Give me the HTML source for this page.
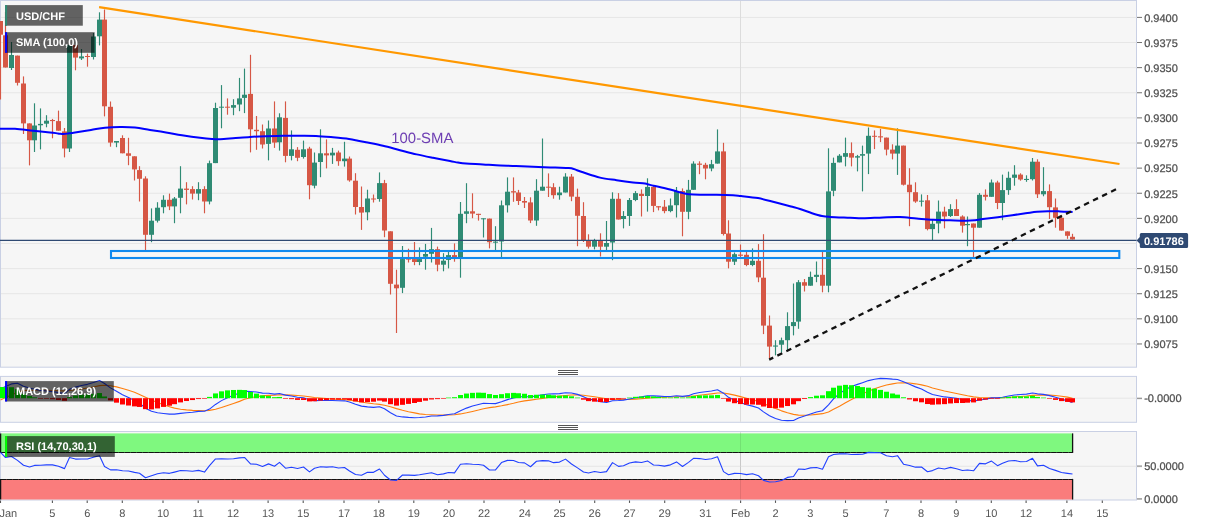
<!DOCTYPE html>
<html lang="en"><head><meta charset="utf-8"><title>USD/CHF chart</title>
<style>
html,body{margin:0;padding:0;background:#fff;}
body{width:1207px;height:526px;overflow:hidden;font-family:"Liberation Sans",Arial,sans-serif;}
svg{display:block;}
text{text-rendering:geometricPrecision;}
</style></head><body>
<svg width="1207" height="526" viewBox="0 0 1207 526">
<rect x="0.5" y="0.5" width="1136" height="366.7" fill="#f6f6f6" stroke="#c9d0e4" stroke-width="1"/>
<rect x="0.5" y="376.4" width="1136" height="45.9" fill="#f6f6f6" stroke="#c9d0e4" stroke-width="1"/>
<rect x="0.5" y="431.5" width="1136" height="68.5" fill="#f6f6f6" stroke="#c9d0e4" stroke-width="1"/>
<line x1="1" x2="1136.5" y1="17.4" y2="17.4" stroke="#e6e6e6" stroke-width="1"/>
<line x1="1" x2="1136.5" y1="42.52" y2="42.52" stroke="#e6e6e6" stroke-width="1"/>
<line x1="1" x2="1136.5" y1="67.64" y2="67.64" stroke="#e6e6e6" stroke-width="1"/>
<line x1="1" x2="1136.5" y1="92.76" y2="92.76" stroke="#e6e6e6" stroke-width="1"/>
<line x1="1" x2="1136.5" y1="117.88" y2="117.88" stroke="#e6e6e6" stroke-width="1"/>
<line x1="1" x2="1136.5" y1="143" y2="143" stroke="#e6e6e6" stroke-width="1"/>
<line x1="1" x2="1136.5" y1="168.12" y2="168.12" stroke="#e6e6e6" stroke-width="1"/>
<line x1="1" x2="1136.5" y1="193.24" y2="193.24" stroke="#e6e6e6" stroke-width="1"/>
<line x1="1" x2="1136.5" y1="218.36" y2="218.36" stroke="#e6e6e6" stroke-width="1"/>
<line x1="1" x2="1136.5" y1="243.48" y2="243.48" stroke="#e6e6e6" stroke-width="1"/>
<line x1="1" x2="1136.5" y1="268.6" y2="268.6" stroke="#e6e6e6" stroke-width="1"/>
<line x1="1" x2="1136.5" y1="293.72" y2="293.72" stroke="#e6e6e6" stroke-width="1"/>
<line x1="1" x2="1136.5" y1="318.84" y2="318.84" stroke="#e6e6e6" stroke-width="1"/>
<line x1="1" x2="1136.5" y1="343.96" y2="343.96" stroke="#e6e6e6" stroke-width="1"/>
<line x1="740.5" x2="740.5" y1="1" y2="366.7" stroke="#dcdcdc" stroke-width="1"/>
<line x1="740.5" x2="740.5" y1="377" y2="421.8" stroke="#dcdcdc" stroke-width="1"/>
<line x1="740.5" x2="740.5" y1="432" y2="499" stroke="#dcdcdc" stroke-width="1"/>
<line x1="1" x2="1136.5" y1="398.2" y2="398.2" stroke="#e6e6e6" stroke-width="1"/>
<line x1="1" x2="1136.5" y1="466.3" y2="466.3" stroke="#e6e6e6" stroke-width="1"/>
<g id="candles">
<line x1="0.5" x2="0.5" y1="21" y2="99.6" stroke="#d65745" stroke-width="1.15"/>
<rect x="-2" y="21" width="5" height="13.7" fill="#d65745"/>
<line x1="5.5" x2="5.5" y1="12" y2="67.5" stroke="#d65745" stroke-width="1.15"/>
<rect x="3" y="35.3" width="5" height="32.2" fill="#d65745"/>
<line x1="11.5" x2="11.5" y1="42" y2="70" stroke="#2f8b74" stroke-width="1.15"/>
<rect x="9" y="55" width="5" height="13" fill="#2f8b74"/>
<line x1="17.5" x2="17.5" y1="55.6" y2="85.5" stroke="#d65745" stroke-width="1.15"/>
<rect x="15" y="55.6" width="5" height="27.2" fill="#d65745"/>
<line x1="23.5" x2="23.5" y1="76.4" y2="134" stroke="#d65745" stroke-width="1.15"/>
<rect x="21" y="83.5" width="5" height="39.9" fill="#d65745"/>
<line x1="29.5" x2="29.5" y1="123.4" y2="165.4" stroke="#d65745" stroke-width="1.15"/>
<rect x="27" y="123.4" width="5" height="16.9" fill="#d65745"/>
<line x1="34.5" x2="34.5" y1="103.3" y2="152" stroke="#2f8b74" stroke-width="1.15"/>
<rect x="32" y="125.5" width="5" height="14.8" fill="#2f8b74"/>
<line x1="40.5" x2="40.5" y1="108.4" y2="149.4" stroke="#2f8b74" stroke-width="1.15"/>
<rect x="38" y="123.9" width="5" height="1.4" fill="#2f8b74"/>
<line x1="46.5" x2="46.5" y1="115.2" y2="127.3" stroke="#2f8b74" stroke-width="1.15"/>
<rect x="44" y="120.7" width="5" height="3" fill="#2f8b74"/>
<line x1="52.5" x2="52.5" y1="118.9" y2="138.3" stroke="#d65745" stroke-width="1.15"/>
<rect x="50" y="120" width="5" height="1.1" fill="#d65745"/>
<line x1="58.5" x2="58.5" y1="110.6" y2="130.7" stroke="#d65745" stroke-width="1.15"/>
<rect x="56" y="121.1" width="5" height="9.6" fill="#d65745"/>
<line x1="64.5" x2="64.5" y1="128" y2="157.4" stroke="#d65745" stroke-width="1.15"/>
<rect x="62" y="131.4" width="5" height="17.1" fill="#d65745"/>
<line x1="69.5" x2="69.5" y1="45" y2="152" stroke="#2f8b74" stroke-width="1.15"/>
<rect x="67" y="45" width="5" height="103.5" fill="#2f8b74"/>
<line x1="75.5" x2="75.5" y1="45" y2="70.3" stroke="#d65745" stroke-width="1.15"/>
<rect x="73" y="45" width="5" height="12.6" fill="#d65745"/>
<line x1="81.5" x2="81.5" y1="49" y2="60" stroke="#2f8b74" stroke-width="1.15"/>
<rect x="79" y="56.4" width="5" height="2" fill="#2f8b74"/>
<line x1="87.5" x2="87.5" y1="53.6" y2="66.7" stroke="#d65745" stroke-width="1.15"/>
<rect x="85" y="56" width="5" height="1" fill="#d65745"/>
<line x1="93.5" x2="93.5" y1="33" y2="59.5" stroke="#2f8b74" stroke-width="1.15"/>
<rect x="91" y="36.5" width="5" height="20.5" fill="#2f8b74"/>
<line x1="99.5" x2="99.5" y1="12.3" y2="45.4" stroke="#2f8b74" stroke-width="1.15"/>
<rect x="97" y="19.6" width="5" height="16.7" fill="#2f8b74"/>
<line x1="104.5" x2="104.5" y1="9.5" y2="116.4" stroke="#d65745" stroke-width="1.15"/>
<rect x="102" y="19.6" width="5" height="86.7" fill="#d65745"/>
<line x1="110.5" x2="110.5" y1="101.5" y2="146.7" stroke="#d65745" stroke-width="1.15"/>
<rect x="108" y="106.8" width="5" height="35.8" fill="#d65745"/>
<line x1="116.5" x2="116.5" y1="141" y2="147.2" stroke="#2f8b74" stroke-width="1.15"/>
<rect x="114" y="141" width="5" height="1.6" fill="#2f8b74"/>
<line x1="122.5" x2="122.5" y1="135.3" y2="153.3" stroke="#d65745" stroke-width="1.15"/>
<rect x="120" y="138" width="5" height="15.3" fill="#d65745"/>
<line x1="128.5" x2="128.5" y1="137.8" y2="165.2" stroke="#d65745" stroke-width="1.15"/>
<rect x="126" y="153.3" width="5" height="2.5" fill="#d65745"/>
<line x1="134.5" x2="134.5" y1="156.3" y2="180.5" stroke="#d65745" stroke-width="1.15"/>
<rect x="132" y="156.3" width="5" height="13.1" fill="#d65745"/>
<line x1="139.5" x2="139.5" y1="166.2" y2="201.5" stroke="#d65745" stroke-width="1.15"/>
<rect x="137" y="170.1" width="5" height="8.7" fill="#d65745"/>
<line x1="145.5" x2="145.5" y1="176.3" y2="250" stroke="#d65745" stroke-width="1.15"/>
<rect x="143" y="178.5" width="5" height="56.3" fill="#d65745"/>
<line x1="151.5" x2="151.5" y1="208.4" y2="242.2" stroke="#2f8b74" stroke-width="1.15"/>
<rect x="149" y="220.7" width="5" height="14.1" fill="#2f8b74"/>
<line x1="157.5" x2="157.5" y1="202.2" y2="222.5" stroke="#2f8b74" stroke-width="1.15"/>
<rect x="155" y="207.7" width="5" height="13" fill="#2f8b74"/>
<line x1="163.5" x2="163.5" y1="195.3" y2="213.3" stroke="#2f8b74" stroke-width="1.15"/>
<rect x="161" y="199.8" width="5" height="7.4" fill="#2f8b74"/>
<line x1="169.5" x2="169.5" y1="193.6" y2="210.1" stroke="#d65745" stroke-width="1.15"/>
<rect x="167" y="199.8" width="5" height="6.6" fill="#d65745"/>
<line x1="174.5" x2="174.5" y1="197" y2="223.2" stroke="#2f8b74" stroke-width="1.15"/>
<rect x="172" y="198.5" width="5" height="7.9" fill="#2f8b74"/>
<line x1="180.5" x2="180.5" y1="166.2" y2="213.3" stroke="#2f8b74" stroke-width="1.15"/>
<rect x="178" y="188.6" width="5" height="9.2" fill="#2f8b74"/>
<line x1="186.5" x2="186.5" y1="182.2" y2="204.4" stroke="#d65745" stroke-width="1.15"/>
<rect x="184" y="188.6" width="5" height="1.3" fill="#d65745"/>
<line x1="192.5" x2="192.5" y1="186.2" y2="199.5" stroke="#d65745" stroke-width="1.15"/>
<rect x="190" y="189.1" width="5" height="4.5" fill="#d65745"/>
<line x1="198.5" x2="198.5" y1="182.2" y2="200.2" stroke="#2f8b74" stroke-width="1.15"/>
<rect x="196" y="189.1" width="5" height="4.5" fill="#2f8b74"/>
<line x1="204.5" x2="204.5" y1="186.2" y2="213.3" stroke="#d65745" stroke-width="1.15"/>
<rect x="202" y="189.1" width="5" height="12.4" fill="#d65745"/>
<line x1="209.5" x2="209.5" y1="160.6" y2="204.4" stroke="#2f8b74" stroke-width="1.15"/>
<rect x="207" y="163.2" width="5" height="38.3" fill="#2f8b74"/>
<line x1="215.5" x2="215.5" y1="102.7" y2="163.1" stroke="#2f8b74" stroke-width="1.15"/>
<rect x="213" y="108" width="5" height="55.1" fill="#2f8b74"/>
<line x1="221.5" x2="221.5" y1="85.1" y2="128.3" stroke="#2f8b74" stroke-width="1.15"/>
<rect x="219" y="106.7" width="5" height="1" fill="#2f8b74"/>
<line x1="227.5" x2="227.5" y1="98.4" y2="114.7" stroke="#d65745" stroke-width="1.15"/>
<rect x="225" y="106.7" width="5" height="1" fill="#d65745"/>
<line x1="233.5" x2="233.5" y1="99.2" y2="115.2" stroke="#2f8b74" stroke-width="1.15"/>
<rect x="231" y="105.1" width="5" height="2.6" fill="#2f8b74"/>
<line x1="239.5" x2="239.5" y1="77.9" y2="111.2" stroke="#2f8b74" stroke-width="1.15"/>
<rect x="237" y="98.4" width="5" height="6.1" fill="#2f8b74"/>
<line x1="244.5" x2="244.5" y1="68.6" y2="113.1" stroke="#2f8b74" stroke-width="1.15"/>
<rect x="242" y="94.7" width="5" height="3.2" fill="#2f8b74"/>
<line x1="250.5" x2="250.5" y1="54.8" y2="152.4" stroke="#d65745" stroke-width="1.15"/>
<rect x="248" y="93.9" width="5" height="35.4" fill="#d65745"/>
<line x1="256.5" x2="256.5" y1="116" y2="149.8" stroke="#d65745" stroke-width="1.15"/>
<rect x="254" y="129.8" width="5" height="1.4" fill="#d65745"/>
<line x1="262.5" x2="262.5" y1="124.5" y2="148.5" stroke="#d65745" stroke-width="1.15"/>
<rect x="260" y="131.2" width="5" height="13.3" fill="#d65745"/>
<line x1="268.5" x2="268.5" y1="120.5" y2="160.4" stroke="#2f8b74" stroke-width="1.15"/>
<rect x="266" y="128.5" width="5" height="15.4" fill="#2f8b74"/>
<line x1="274.5" x2="274.5" y1="101.4" y2="147.9" stroke="#d65745" stroke-width="1.15"/>
<rect x="272" y="128.5" width="5" height="14.1" fill="#d65745"/>
<line x1="279.5" x2="279.5" y1="113.3" y2="150.6" stroke="#2f8b74" stroke-width="1.15"/>
<rect x="277" y="117.3" width="5" height="25" fill="#2f8b74"/>
<line x1="285.5" x2="285.5" y1="101.4" y2="162.3" stroke="#d65745" stroke-width="1.15"/>
<rect x="283" y="117.9" width="5" height="38" fill="#d65745"/>
<line x1="291.5" x2="291.5" y1="130.4" y2="160.4" stroke="#2f8b74" stroke-width="1.15"/>
<rect x="289" y="149.3" width="5" height="6.6" fill="#2f8b74"/>
<line x1="297.5" x2="297.5" y1="147.1" y2="161.2" stroke="#d65745" stroke-width="1.15"/>
<rect x="295" y="149.8" width="5" height="8" fill="#d65745"/>
<line x1="303.5" x2="303.5" y1="140.6" y2="158.6" stroke="#2f8b74" stroke-width="1.15"/>
<rect x="301" y="149.3" width="5" height="7.7" fill="#2f8b74"/>
<line x1="309.5" x2="309.5" y1="146.8" y2="199.3" stroke="#d65745" stroke-width="1.15"/>
<rect x="307" y="148.6" width="5" height="36.6" fill="#d65745"/>
<line x1="314.5" x2="314.5" y1="152.5" y2="188.4" stroke="#2f8b74" stroke-width="1.15"/>
<rect x="312" y="162.6" width="5" height="23.1" fill="#2f8b74"/>
<line x1="320.5" x2="320.5" y1="129.3" y2="177.2" stroke="#2f8b74" stroke-width="1.15"/>
<rect x="318" y="153.3" width="5" height="8.7" fill="#2f8b74"/>
<line x1="326.5" x2="326.5" y1="139.4" y2="168.4" stroke="#d65745" stroke-width="1.15"/>
<rect x="324" y="153.3" width="5" height="2.1" fill="#d65745"/>
<line x1="332.5" x2="332.5" y1="147.9" y2="163.9" stroke="#2f8b74" stroke-width="1.15"/>
<rect x="330" y="152.7" width="5" height="2.7" fill="#2f8b74"/>
<line x1="338.5" x2="338.5" y1="150.6" y2="165.8" stroke="#d65745" stroke-width="1.15"/>
<rect x="336" y="152.5" width="5" height="8.7" fill="#d65745"/>
<line x1="344.5" x2="344.5" y1="141.8" y2="166.6" stroke="#2f8b74" stroke-width="1.15"/>
<rect x="342" y="158.6" width="5" height="2.6" fill="#2f8b74"/>
<line x1="349.5" x2="349.5" y1="156.5" y2="181.7" stroke="#d65745" stroke-width="1.15"/>
<rect x="347" y="158.6" width="5" height="21.8" fill="#d65745"/>
<line x1="355.5" x2="355.5" y1="173.2" y2="214.5" stroke="#d65745" stroke-width="1.15"/>
<rect x="353" y="180.7" width="5" height="26.3" fill="#d65745"/>
<line x1="361.5" x2="361.5" y1="186.5" y2="229.9" stroke="#d65745" stroke-width="1.15"/>
<rect x="359" y="207" width="5" height="5.6" fill="#d65745"/>
<line x1="367.5" x2="367.5" y1="189.7" y2="220.3" stroke="#2f8b74" stroke-width="1.15"/>
<rect x="365" y="198.5" width="5" height="13.8" fill="#2f8b74"/>
<line x1="373.5" x2="373.5" y1="194.5" y2="202.5" stroke="#d65745" stroke-width="1.15"/>
<rect x="371" y="198.5" width="5" height="1" fill="#d65745"/>
<line x1="379.5" x2="379.5" y1="172.4" y2="201.7" stroke="#2f8b74" stroke-width="1.15"/>
<rect x="377" y="183.1" width="5" height="15.9" fill="#2f8b74"/>
<line x1="384.5" x2="384.5" y1="179.9" y2="237.2" stroke="#d65745" stroke-width="1.15"/>
<rect x="382" y="183.1" width="5" height="47.4" fill="#d65745"/>
<line x1="390.5" x2="390.5" y1="231.3" y2="294.5" stroke="#d65745" stroke-width="1.15"/>
<rect x="388" y="231.3" width="5" height="52.5" fill="#d65745"/>
<line x1="396.5" x2="396.5" y1="269.7" y2="333" stroke="#d65745" stroke-width="1.15"/>
<rect x="394" y="284.6" width="5" height="3.7" fill="#d65745"/>
<line x1="402.5" x2="402.5" y1="246" y2="293.1" stroke="#2f8b74" stroke-width="1.15"/>
<rect x="400" y="259.1" width="5" height="28.7" fill="#2f8b74"/>
<line x1="408.5" x2="408.5" y1="248.7" y2="262.5" stroke="#d65745" stroke-width="1.15"/>
<rect x="406" y="258.5" width="5" height="1.1" fill="#d65745"/>
<line x1="414.5" x2="414.5" y1="242" y2="265.2" stroke="#d65745" stroke-width="1.15"/>
<rect x="412" y="259.1" width="5" height="2.9" fill="#d65745"/>
<line x1="419.5" x2="419.5" y1="247.4" y2="265.2" stroke="#2f8b74" stroke-width="1.15"/>
<rect x="417" y="259.1" width="5" height="2.9" fill="#2f8b74"/>
<line x1="425.5" x2="425.5" y1="243.9" y2="269.7" stroke="#2f8b74" stroke-width="1.15"/>
<rect x="423" y="254" width="5" height="2.7" fill="#2f8b74"/>
<line x1="431.5" x2="431.5" y1="227.9" y2="262.5" stroke="#2f8b74" stroke-width="1.15"/>
<rect x="429" y="249.2" width="5" height="4.6" fill="#2f8b74"/>
<line x1="437.5" x2="437.5" y1="246.6" y2="271.3" stroke="#d65745" stroke-width="1.15"/>
<rect x="435" y="249.2" width="5" height="15.5" fill="#d65745"/>
<line x1="443.5" x2="443.5" y1="253.2" y2="271.3" stroke="#2f8b74" stroke-width="1.15"/>
<rect x="441" y="260.7" width="5" height="4" fill="#2f8b74"/>
<line x1="448.5" x2="448.5" y1="251.9" y2="268.4" stroke="#2f8b74" stroke-width="1.15"/>
<rect x="446" y="255.1" width="5" height="4.8" fill="#2f8b74"/>
<line x1="454.5" x2="454.5" y1="243.4" y2="261.7" stroke="#d65745" stroke-width="1.15"/>
<rect x="452" y="255.1" width="5" height="2.1" fill="#d65745"/>
<line x1="460.5" x2="460.5" y1="202" y2="277.7" stroke="#2f8b74" stroke-width="1.15"/>
<rect x="458" y="213.8" width="5" height="43.4" fill="#2f8b74"/>
<line x1="466.5" x2="466.5" y1="183.2" y2="223.2" stroke="#2f8b74" stroke-width="1.15"/>
<rect x="464" y="211.3" width="5" height="2.5" fill="#2f8b74"/>
<line x1="472.5" x2="472.5" y1="193.3" y2="218.2" stroke="#d65745" stroke-width="1.15"/>
<rect x="470" y="211.3" width="5" height="2.3" fill="#d65745"/>
<line x1="478.5" x2="478.5" y1="213.8" y2="220.6" stroke="#d65745" stroke-width="1.15"/>
<rect x="476" y="213.8" width="5" height="1.1" fill="#d65745"/>
<line x1="483.5" x2="483.5" y1="218.3" y2="237.5" stroke="#2f8b74" stroke-width="1.15"/>
<rect x="481" y="218.3" width="5" height="1" fill="#2f8b74"/>
<line x1="489.5" x2="489.5" y1="218.6" y2="248.4" stroke="#d65745" stroke-width="1.15"/>
<rect x="487" y="218.6" width="5" height="23.6" fill="#d65745"/>
<line x1="495.5" x2="495.5" y1="226.2" y2="250.1" stroke="#2f8b74" stroke-width="1.15"/>
<rect x="493" y="241.6" width="5" height="1.1" fill="#2f8b74"/>
<line x1="501.5" x2="501.5" y1="200.5" y2="257.2" stroke="#2f8b74" stroke-width="1.15"/>
<rect x="499" y="205.3" width="5" height="36.2" fill="#2f8b74"/>
<line x1="507.5" x2="507.5" y1="177.4" y2="212.5" stroke="#2f8b74" stroke-width="1.15"/>
<rect x="505" y="191.7" width="5" height="13.6" fill="#2f8b74"/>
<line x1="513.5" x2="513.5" y1="177.4" y2="201.8" stroke="#d65745" stroke-width="1.15"/>
<rect x="511" y="191.2" width="5" height="1.3" fill="#d65745"/>
<line x1="518.5" x2="518.5" y1="189.9" y2="205" stroke="#d65745" stroke-width="1.15"/>
<rect x="516" y="192.5" width="5" height="8.5" fill="#d65745"/>
<line x1="524.5" x2="524.5" y1="197" y2="208" stroke="#d65745" stroke-width="1.15"/>
<rect x="522" y="201" width="5" height="1.6" fill="#d65745"/>
<line x1="530.5" x2="530.5" y1="197.3" y2="223.1" stroke="#d65745" stroke-width="1.15"/>
<rect x="528" y="202.4" width="5" height="18.1" fill="#d65745"/>
<line x1="536.5" x2="536.5" y1="179.2" y2="225.8" stroke="#2f8b74" stroke-width="1.15"/>
<rect x="534" y="190.7" width="5" height="29.8" fill="#2f8b74"/>
<line x1="542.5" x2="542.5" y1="138.5" y2="190.7" stroke="#2f8b74" stroke-width="1.15"/>
<rect x="540" y="186.7" width="5" height="4" fill="#2f8b74"/>
<line x1="548.5" x2="548.5" y1="173.4" y2="197" stroke="#d65745" stroke-width="1.15"/>
<rect x="546" y="186.7" width="5" height="1" fill="#d65745"/>
<line x1="553.5" x2="553.5" y1="183.2" y2="198.7" stroke="#d65745" stroke-width="1.15"/>
<rect x="551" y="187.2" width="5" height="8" fill="#d65745"/>
<line x1="559.5" x2="559.5" y1="186.7" y2="199.7" stroke="#2f8b74" stroke-width="1.15"/>
<rect x="557" y="192.5" width="5" height="2.7" fill="#2f8b74"/>
<line x1="565.5" x2="565.5" y1="173.2" y2="192.5" stroke="#2f8b74" stroke-width="1.15"/>
<rect x="563" y="176.6" width="5" height="15.9" fill="#2f8b74"/>
<line x1="571.5" x2="571.5" y1="174" y2="201.2" stroke="#d65745" stroke-width="1.15"/>
<rect x="569" y="176.6" width="5" height="20" fill="#d65745"/>
<line x1="577.5" x2="577.5" y1="188.6" y2="246.2" stroke="#d65745" stroke-width="1.15"/>
<rect x="575" y="196.8" width="5" height="19" fill="#d65745"/>
<line x1="583.5" x2="583.5" y1="202.2" y2="242" stroke="#d65745" stroke-width="1.15"/>
<rect x="581" y="216" width="5" height="24.5" fill="#d65745"/>
<line x1="588.5" x2="588.5" y1="234.3" y2="248.6" stroke="#d65745" stroke-width="1.15"/>
<rect x="586" y="240.5" width="5" height="6.2" fill="#d65745"/>
<line x1="594.5" x2="594.5" y1="238.8" y2="249.4" stroke="#2f8b74" stroke-width="1.15"/>
<rect x="592" y="240.7" width="5" height="6" fill="#2f8b74"/>
<line x1="600.5" x2="600.5" y1="233.3" y2="256.5" stroke="#d65745" stroke-width="1.15"/>
<rect x="598" y="240.7" width="5" height="6" fill="#d65745"/>
<line x1="606.5" x2="606.5" y1="221" y2="251.9" stroke="#2f8b74" stroke-width="1.15"/>
<rect x="604" y="243" width="5" height="3.7" fill="#2f8b74"/>
<line x1="612.5" x2="612.5" y1="192.3" y2="260.2" stroke="#2f8b74" stroke-width="1.15"/>
<rect x="610" y="198.8" width="5" height="43.7" fill="#2f8b74"/>
<line x1="618.5" x2="618.5" y1="193.1" y2="219.5" stroke="#d65745" stroke-width="1.15"/>
<rect x="616" y="198.8" width="5" height="20.7" fill="#d65745"/>
<line x1="623.5" x2="623.5" y1="211.1" y2="228.4" stroke="#2f8b74" stroke-width="1.15"/>
<rect x="621" y="216" width="5" height="3" fill="#2f8b74"/>
<line x1="629.5" x2="629.5" y1="198" y2="225.9" stroke="#2f8b74" stroke-width="1.15"/>
<rect x="627" y="200" width="5" height="16" fill="#2f8b74"/>
<line x1="635.5" x2="635.5" y1="191.1" y2="201.2" stroke="#2f8b74" stroke-width="1.15"/>
<rect x="633" y="193.1" width="5" height="6.9" fill="#2f8b74"/>
<line x1="641.5" x2="641.5" y1="189.4" y2="216.5" stroke="#d65745" stroke-width="1.15"/>
<rect x="639" y="193.8" width="5" height="2.2" fill="#d65745"/>
<line x1="647.5" x2="647.5" y1="178.3" y2="211.6" stroke="#2f8b74" stroke-width="1.15"/>
<rect x="645" y="186.9" width="5" height="9.1" fill="#2f8b74"/>
<line x1="653.5" x2="653.5" y1="185.7" y2="212.1" stroke="#d65745" stroke-width="1.15"/>
<rect x="651" y="186.9" width="5" height="19" fill="#d65745"/>
<line x1="658.5" x2="658.5" y1="206.2" y2="210.4" stroke="#d65745" stroke-width="1.15"/>
<rect x="656" y="206.2" width="5" height="1.2" fill="#d65745"/>
<line x1="664.5" x2="664.5" y1="200" y2="213.3" stroke="#d65745" stroke-width="1.15"/>
<rect x="662" y="206.7" width="5" height="4.4" fill="#d65745"/>
<line x1="670.5" x2="670.5" y1="198.5" y2="212.3" stroke="#2f8b74" stroke-width="1.15"/>
<rect x="668" y="205.4" width="5" height="5.7" fill="#2f8b74"/>
<line x1="676.5" x2="676.5" y1="187" y2="217.5" stroke="#2f8b74" stroke-width="1.15"/>
<rect x="674" y="191" width="5" height="14.2" fill="#2f8b74"/>
<line x1="682.5" x2="682.5" y1="188.4" y2="236.3" stroke="#d65745" stroke-width="1.15"/>
<rect x="680" y="191" width="5" height="20.8" fill="#d65745"/>
<line x1="688.5" x2="688.5" y1="179.9" y2="219.2" stroke="#2f8b74" stroke-width="1.15"/>
<rect x="686" y="189.8" width="5" height="22" fill="#2f8b74"/>
<line x1="693.5" x2="693.5" y1="161.3" y2="189.8" stroke="#2f8b74" stroke-width="1.15"/>
<rect x="691" y="163.6" width="5" height="26.2" fill="#2f8b74"/>
<line x1="699.5" x2="699.5" y1="161.3" y2="174.2" stroke="#d65745" stroke-width="1.15"/>
<rect x="697" y="163.6" width="5" height="1.2" fill="#d65745"/>
<line x1="705.5" x2="705.5" y1="162.8" y2="179.3" stroke="#d65745" stroke-width="1.15"/>
<rect x="703" y="164.8" width="5" height="3.7" fill="#d65745"/>
<line x1="711.5" x2="711.5" y1="159.9" y2="171.3" stroke="#2f8b74" stroke-width="1.15"/>
<rect x="709" y="164.2" width="5" height="4.3" fill="#2f8b74"/>
<line x1="717.5" x2="717.5" y1="129.4" y2="163.6" stroke="#2f8b74" stroke-width="1.15"/>
<rect x="715" y="151.4" width="5" height="12.2" fill="#2f8b74"/>
<line x1="723.5" x2="723.5" y1="142.8" y2="235.5" stroke="#d65745" stroke-width="1.15"/>
<rect x="721" y="151.4" width="5" height="82.6" fill="#d65745"/>
<line x1="728.5" x2="728.5" y1="220.3" y2="268.4" stroke="#d65745" stroke-width="1.15"/>
<rect x="726" y="233.5" width="5" height="28.2" fill="#d65745"/>
<line x1="734.5" x2="734.5" y1="252.5" y2="265" stroke="#2f8b74" stroke-width="1.15"/>
<rect x="732" y="254.2" width="5" height="7.5" fill="#2f8b74"/>
<line x1="740.5" x2="740.5" y1="244.5" y2="257" stroke="#d65745" stroke-width="1.15"/>
<rect x="738" y="254.6" width="5" height="1.2" fill="#d65745"/>
<line x1="746.5" x2="746.5" y1="251.6" y2="266.2" stroke="#d65745" stroke-width="1.15"/>
<rect x="744" y="254.8" width="5" height="10.2" fill="#d65745"/>
<line x1="752.5" x2="752.5" y1="248.4" y2="266.2" stroke="#2f8b74" stroke-width="1.15"/>
<rect x="750" y="260.8" width="5" height="4.2" fill="#2f8b74"/>
<line x1="758.5" x2="758.5" y1="244.1" y2="282.2" stroke="#d65745" stroke-width="1.15"/>
<rect x="756" y="260.8" width="5" height="16.6" fill="#d65745"/>
<line x1="763.5" x2="763.5" y1="234.2" y2="334.1" stroke="#d65745" stroke-width="1.15"/>
<rect x="761" y="277.7" width="5" height="47.9" fill="#d65745"/>
<line x1="769.5" x2="769.5" y1="315.5" y2="358.8" stroke="#d65745" stroke-width="1.15"/>
<rect x="767" y="325.6" width="5" height="21" fill="#d65745"/>
<line x1="775.5" x2="775.5" y1="340.2" y2="355.4" stroke="#2f8b74" stroke-width="1.15"/>
<rect x="773" y="345.5" width="5" height="1.1" fill="#2f8b74"/>
<line x1="781.5" x2="781.5" y1="337.6" y2="352.7" stroke="#2f8b74" stroke-width="1.15"/>
<rect x="779" y="340.2" width="5" height="4.5" fill="#2f8b74"/>
<line x1="787.5" x2="787.5" y1="312.3" y2="350.1" stroke="#2f8b74" stroke-width="1.15"/>
<rect x="785" y="326.1" width="5" height="14.1" fill="#2f8b74"/>
<line x1="793.5" x2="793.5" y1="283.5" y2="335.4" stroke="#2f8b74" stroke-width="1.15"/>
<rect x="791" y="322.1" width="5" height="4" fill="#2f8b74"/>
<line x1="798.5" x2="798.5" y1="280.1" y2="328.8" stroke="#2f8b74" stroke-width="1.15"/>
<rect x="796" y="282.2" width="5" height="39.4" fill="#2f8b74"/>
<line x1="804.5" x2="804.5" y1="279" y2="291.5" stroke="#d65745" stroke-width="1.15"/>
<rect x="802" y="282.2" width="5" height="3.5" fill="#d65745"/>
<line x1="810.5" x2="810.5" y1="271.6" y2="285.7" stroke="#2f8b74" stroke-width="1.15"/>
<rect x="808" y="276.9" width="5" height="8.8" fill="#2f8b74"/>
<line x1="816.5" x2="816.5" y1="261.5" y2="282.2" stroke="#2f8b74" stroke-width="1.15"/>
<rect x="814" y="274.8" width="5" height="2.1" fill="#2f8b74"/>
<line x1="822.5" x2="822.5" y1="251.6" y2="292.3" stroke="#d65745" stroke-width="1.15"/>
<rect x="820" y="274.8" width="5" height="10.9" fill="#d65745"/>
<line x1="828.5" x2="828.5" y1="148.3" y2="292.3" stroke="#2f8b74" stroke-width="1.15"/>
<rect x="826" y="191.4" width="5" height="94.3" fill="#2f8b74"/>
<line x1="833.5" x2="833.5" y1="157.6" y2="196.2" stroke="#2f8b74" stroke-width="1.15"/>
<rect x="831" y="162.9" width="5" height="27.9" fill="#2f8b74"/>
<line x1="839.5" x2="839.5" y1="154.1" y2="162.4" stroke="#2f8b74" stroke-width="1.15"/>
<rect x="837" y="155.7" width="5" height="6.7" fill="#2f8b74"/>
<line x1="845.5" x2="845.5" y1="137.6" y2="166.4" stroke="#2f8b74" stroke-width="1.15"/>
<rect x="843" y="153.1" width="5" height="3.7" fill="#2f8b74"/>
<line x1="851.5" x2="851.5" y1="142.4" y2="166.4" stroke="#d65745" stroke-width="1.15"/>
<rect x="849" y="153.1" width="5" height="4.5" fill="#d65745"/>
<line x1="857.5" x2="857.5" y1="154.9" y2="171.4" stroke="#2f8b74" stroke-width="1.15"/>
<rect x="855" y="156.2" width="5" height="1.4" fill="#2f8b74"/>
<line x1="862.5" x2="862.5" y1="145.6" y2="191.4" stroke="#2f8b74" stroke-width="1.15"/>
<rect x="860" y="154.1" width="5" height="1.6" fill="#2f8b74"/>
<line x1="868.5" x2="868.5" y1="127.5" y2="174.1" stroke="#2f8b74" stroke-width="1.15"/>
<rect x="866" y="135.8" width="5" height="17.8" fill="#2f8b74"/>
<line x1="874.5" x2="874.5" y1="130.4" y2="149.1" stroke="#d65745" stroke-width="1.15"/>
<rect x="872" y="135.8" width="5" height="1" fill="#d65745"/>
<line x1="880.5" x2="880.5" y1="128.8" y2="142.1" stroke="#d65745" stroke-width="1.15"/>
<rect x="878" y="136.3" width="5" height="1.1" fill="#d65745"/>
<line x1="886.5" x2="886.5" y1="137.6" y2="155.4" stroke="#d65745" stroke-width="1.15"/>
<rect x="884" y="137.6" width="5" height="12" fill="#d65745"/>
<line x1="892.5" x2="892.5" y1="144.3" y2="159.4" stroke="#d65745" stroke-width="1.15"/>
<rect x="890" y="149.6" width="5" height="4" fill="#d65745"/>
<line x1="897.5" x2="897.5" y1="128.3" y2="174.9" stroke="#2f8b74" stroke-width="1.15"/>
<rect x="895" y="145.6" width="5" height="8" fill="#2f8b74"/>
<line x1="903.5" x2="903.5" y1="145.6" y2="185.5" stroke="#d65745" stroke-width="1.15"/>
<rect x="901" y="145.6" width="5" height="39.1" fill="#d65745"/>
<line x1="909.5" x2="909.5" y1="168.2" y2="226.2" stroke="#d65745" stroke-width="1.15"/>
<rect x="907" y="184.7" width="5" height="7.5" fill="#d65745"/>
<line x1="915.5" x2="915.5" y1="182.3" y2="202.8" stroke="#d65745" stroke-width="1.15"/>
<rect x="913" y="192.2" width="5" height="9.3" fill="#d65745"/>
<line x1="921.5" x2="921.5" y1="194.4" y2="206.5" stroke="#2f8b74" stroke-width="1.15"/>
<rect x="919" y="200.7" width="5" height="1" fill="#2f8b74"/>
<line x1="927.5" x2="927.5" y1="195" y2="230.4" stroke="#d65745" stroke-width="1.15"/>
<rect x="925" y="200.3" width="5" height="28.8" fill="#d65745"/>
<line x1="932.5" x2="932.5" y1="219.5" y2="240" stroke="#2f8b74" stroke-width="1.15"/>
<rect x="930" y="223.8" width="5" height="5.3" fill="#2f8b74"/>
<line x1="938.5" x2="938.5" y1="200.5" y2="233.3" stroke="#2f8b74" stroke-width="1.15"/>
<rect x="936" y="211.6" width="5" height="11.9" fill="#2f8b74"/>
<line x1="944.5" x2="944.5" y1="206.7" y2="228.4" stroke="#d65745" stroke-width="1.15"/>
<rect x="942" y="211.6" width="5" height="4.9" fill="#d65745"/>
<line x1="950.5" x2="950.5" y1="204.2" y2="217" stroke="#2f8b74" stroke-width="1.15"/>
<rect x="948" y="209.1" width="5" height="6.9" fill="#2f8b74"/>
<line x1="956.5" x2="956.5" y1="199.3" y2="216" stroke="#d65745" stroke-width="1.15"/>
<rect x="954" y="209.1" width="5" height="6.9" fill="#d65745"/>
<line x1="962.5" x2="962.5" y1="215.3" y2="232.6" stroke="#d65745" stroke-width="1.15"/>
<rect x="960" y="216.5" width="5" height="9.2" fill="#d65745"/>
<line x1="967.5" x2="967.5" y1="216.5" y2="246.2" stroke="#2f8b74" stroke-width="1.15"/>
<rect x="965" y="224" width="5" height="1.2" fill="#2f8b74"/>
<line x1="973.5" x2="973.5" y1="223.5" y2="257.3" stroke="#d65745" stroke-width="1.15"/>
<rect x="971" y="223.5" width="5" height="4.2" fill="#d65745"/>
<line x1="979.5" x2="979.5" y1="193.1" y2="227.7" stroke="#2f8b74" stroke-width="1.15"/>
<rect x="977" y="194.8" width="5" height="32.9" fill="#2f8b74"/>
<line x1="985.5" x2="985.5" y1="189.4" y2="200.5" stroke="#d65745" stroke-width="1.15"/>
<rect x="983" y="194.8" width="5" height="2" fill="#d65745"/>
<line x1="991.5" x2="991.5" y1="179.5" y2="196.8" stroke="#2f8b74" stroke-width="1.15"/>
<rect x="989" y="182.5" width="5" height="14.3" fill="#2f8b74"/>
<line x1="997.5" x2="997.5" y1="180.7" y2="209.1" stroke="#d65745" stroke-width="1.15"/>
<rect x="995" y="182.5" width="5" height="20.5" fill="#d65745"/>
<line x1="1002.5" x2="1002.5" y1="174.6" y2="220.2" stroke="#2f8b74" stroke-width="1.15"/>
<rect x="1000" y="190.1" width="5" height="12.9" fill="#2f8b74"/>
<line x1="1008.5" x2="1008.5" y1="171.6" y2="194.8" stroke="#2f8b74" stroke-width="1.15"/>
<rect x="1006" y="177.8" width="5" height="12.3" fill="#2f8b74"/>
<line x1="1014.5" x2="1014.5" y1="165.2" y2="185.7" stroke="#2f8b74" stroke-width="1.15"/>
<rect x="1012" y="174.6" width="5" height="3.2" fill="#2f8b74"/>
<line x1="1020.5" x2="1020.5" y1="173.3" y2="180.7" stroke="#d65745" stroke-width="1.15"/>
<rect x="1018" y="174.6" width="5" height="4.9" fill="#d65745"/>
<line x1="1026.5" x2="1026.5" y1="175.3" y2="181.8" stroke="#2f8b74" stroke-width="1.15"/>
<rect x="1024" y="178.9" width="5" height="1.1" fill="#2f8b74"/>
<line x1="1032.5" x2="1032.5" y1="158" y2="180.5" stroke="#2f8b74" stroke-width="1.15"/>
<rect x="1030" y="161.7" width="5" height="17.5" fill="#2f8b74"/>
<line x1="1037.5" x2="1037.5" y1="159.3" y2="198" stroke="#d65745" stroke-width="1.15"/>
<rect x="1035" y="161.7" width="5" height="32.6" fill="#d65745"/>
<line x1="1043.5" x2="1043.5" y1="167.2" y2="196.3" stroke="#2f8b74" stroke-width="1.15"/>
<rect x="1041" y="191.1" width="5" height="3.2" fill="#2f8b74"/>
<line x1="1049.5" x2="1049.5" y1="184.4" y2="219" stroke="#d65745" stroke-width="1.15"/>
<rect x="1047" y="191.1" width="5" height="16.1" fill="#d65745"/>
<line x1="1055.5" x2="1055.5" y1="198.5" y2="227.7" stroke="#d65745" stroke-width="1.15"/>
<rect x="1053" y="207.4" width="5" height="10.4" fill="#d65745"/>
<line x1="1061.5" x2="1061.5" y1="215.3" y2="230.6" stroke="#d65745" stroke-width="1.15"/>
<rect x="1059" y="217.8" width="5" height="12.8" fill="#d65745"/>
<line x1="1067.5" x2="1067.5" y1="231.4" y2="238.8" stroke="#d65745" stroke-width="1.15"/>
<rect x="1065" y="231.4" width="5" height="4.4" fill="#d65745"/>
<line x1="1072.5" x2="1072.5" y1="233.8" y2="239.5" stroke="#d65745" stroke-width="1.15"/>
<rect x="1070" y="236.8" width="5" height="2.7" fill="#d65745"/>
</g>
<path d="M0,128.7 C2.5,128.72 9.5,128.47 15,128.8 C20.5,129.13 27.17,130.1 33,130.7 C38.83,131.3 45.83,131.95 50,132.4 C54.17,132.85 55.75,133.12 58,133.4 C60.25,133.68 61.67,134.12 63.5,134.1 C65.33,134.08 67.08,133.58 69,133.3 C70.92,133.02 71.33,132.97 75,132.4 C78.67,131.83 86,130.68 91,129.9 C96,129.12 100.17,128.2 105,127.7 C109.83,127.2 115,126.95 120,126.9 C125,126.85 130,126.9 135,127.4 C140,127.9 144.83,129.07 150,129.9 C155.17,130.73 160.67,131.52 166,132.4 C171.33,133.28 176.33,134.3 182,135.2 C187.67,136.1 195,137.17 200,137.8 C205,138.43 208.67,138.77 212,139 C215.33,139.23 216.5,139.32 220,139.2 C223.5,139.08 228,138.68 233,138.3 C238,137.92 244.5,137.25 250,136.9 C255.5,136.55 260.5,136.38 266,136.2 C271.5,136.02 277.33,135.88 283,135.8 C288.67,135.72 294.5,135.68 300,135.7 C305.5,135.72 310.5,135.63 316,135.9 C321.5,136.17 327.5,136.78 333,137.3 C338.5,137.82 344.83,138.43 349,139 C353.17,139.57 355.17,140.15 358,140.7 C360.83,141.25 361.83,141.45 366,142.3 C370.17,143.15 377.33,144.48 383,145.8 C388.67,147.12 394.4,148.77 400,150.2 C405.6,151.63 411.1,153.13 416.6,154.4 C422.1,155.67 427.43,156.7 433,157.8 C438.57,158.9 445.83,160.2 450,161 C454.17,161.8 455.33,162.17 458,162.6 C460.67,163.03 461.83,163.3 466,163.6 C470.17,163.9 478,164.12 483,164.4 C488,164.68 490.5,165.03 496,165.3 C501.5,165.57 509.83,165.75 516,166 C522.17,166.25 527.33,166.57 533,166.8 C538.67,167.03 544.5,167.22 550,167.4 C555.5,167.58 562.42,167.77 566,167.9 C569.58,168.03 569.67,167.82 571.5,168.2 C573.33,168.58 575.08,169.52 577,170.2 C578.92,170.88 579.17,171.07 583,172.3 C586.83,173.53 594.4,176.28 600,177.6 C605.6,178.92 611.1,179.4 616.6,180.2 C622.1,181 628.27,181.83 633,182.4 C637.73,182.97 642.17,183.18 645,183.6 C647.83,184.02 646.5,184.08 650,184.9 C653.5,185.72 660.5,187.13 666,188.5 C671.5,189.87 679.17,192.13 683,193.1 C686.83,194.07 686.17,194.02 689,194.3 C691.83,194.58 695.4,194.73 700,194.8 C704.6,194.87 711.1,194.63 716.6,194.7 C722.1,194.77 728.93,194.98 733,195.2 C737.07,195.42 736.83,195.52 741,196 C745.17,196.48 752.33,197.05 758,198.1 C763.67,199.15 769.5,200.9 775,202.3 C780.5,203.7 786.83,205.38 791,206.5 C795.17,207.62 796.5,207.88 800,209 C803.5,210.12 808.33,212.03 812,213.2 C815.67,214.37 819,215.38 822,216 C825,216.62 825.33,216.62 830,216.9 C834.67,217.18 844.5,217.48 850,217.7 C855.5,217.92 857.5,218.25 863,218.2 C868.5,218.15 876.83,217.58 883,217.4 C889.17,217.22 894.4,216.92 900,217.1 C905.6,217.28 911.1,218.05 916.6,218.5 C922.1,218.95 927.43,219.5 933,219.8 C938.57,220.1 944.5,220.15 950,220.3 C955.5,220.45 961.83,220.72 966,220.7 C970.17,220.68 972.17,220.47 975,220.2 C977.83,219.93 978.33,219.72 983,219.1 C987.67,218.48 995.9,217.47 1003,216.5 C1010.1,215.53 1019.93,214.08 1025.6,213.3 C1031.27,212.52 1033.27,212.15 1037,211.8 C1040.73,211.45 1044.17,211.27 1048,211.2 C1051.83,211.13 1055.9,211.28 1060,211.4 C1064.1,211.52 1070.5,211.82 1072.6,211.9" fill="none" stroke="#0000ff" stroke-width="2" stroke-linecap="butt"/>
<rect x="111" y="251" width="1008.3" height="7" fill="none" stroke="#1089ee" stroke-width="2.1"/>
<line x1="0" x2="1136.5" y1="240.4" y2="240.4" stroke="#2f4a73" stroke-width="1.2"/>
<line x1="99.1" y1="7.2" x2="1119.5" y2="164" stroke="#ff9800" stroke-width="2.2"/>
<line x1="769.2" y1="359.6" x2="1116" y2="189.3" stroke="#111" stroke-width="2.3" stroke-dasharray="5.5 4.55" stroke-dashoffset="1"/>
<text x="391.3" y="143.3" font-family="Liberation Sans, Arial, sans-serif" font-size="14.9" fill="#6e3fb3">100-SMA</text>
<line x1="1137.0" x2="1142" y1="17.4" y2="17.4" stroke="#707070" stroke-width="1"/>
<text x="1144.2" y="21.7" font-family="Liberation Sans, Arial, sans-serif" font-size="11" fill="#505050" stroke="#505050" stroke-width="0.25">0.9400</text>
<line x1="1137.0" x2="1142" y1="42.52" y2="42.52" stroke="#707070" stroke-width="1"/>
<text x="1144.2" y="46.82" font-family="Liberation Sans, Arial, sans-serif" font-size="11" fill="#505050" stroke="#505050" stroke-width="0.25">0.9375</text>
<line x1="1137.0" x2="1142" y1="67.64" y2="67.64" stroke="#707070" stroke-width="1"/>
<text x="1144.2" y="71.94" font-family="Liberation Sans, Arial, sans-serif" font-size="11" fill="#505050" stroke="#505050" stroke-width="0.25">0.9350</text>
<line x1="1137.0" x2="1142" y1="92.76" y2="92.76" stroke="#707070" stroke-width="1"/>
<text x="1144.2" y="97.06" font-family="Liberation Sans, Arial, sans-serif" font-size="11" fill="#505050" stroke="#505050" stroke-width="0.25">0.9325</text>
<line x1="1137.0" x2="1142" y1="117.88" y2="117.88" stroke="#707070" stroke-width="1"/>
<text x="1144.2" y="122.18" font-family="Liberation Sans, Arial, sans-serif" font-size="11" fill="#505050" stroke="#505050" stroke-width="0.25">0.9300</text>
<line x1="1137.0" x2="1142" y1="143" y2="143" stroke="#707070" stroke-width="1"/>
<text x="1144.2" y="147.3" font-family="Liberation Sans, Arial, sans-serif" font-size="11" fill="#505050" stroke="#505050" stroke-width="0.25">0.9275</text>
<line x1="1137.0" x2="1142" y1="168.12" y2="168.12" stroke="#707070" stroke-width="1"/>
<text x="1144.2" y="172.42" font-family="Liberation Sans, Arial, sans-serif" font-size="11" fill="#505050" stroke="#505050" stroke-width="0.25">0.9250</text>
<line x1="1137.0" x2="1142" y1="193.24" y2="193.24" stroke="#707070" stroke-width="1"/>
<text x="1144.2" y="197.54" font-family="Liberation Sans, Arial, sans-serif" font-size="11" fill="#505050" stroke="#505050" stroke-width="0.25">0.9225</text>
<line x1="1137.0" x2="1142" y1="218.36" y2="218.36" stroke="#707070" stroke-width="1"/>
<text x="1144.2" y="222.66" font-family="Liberation Sans, Arial, sans-serif" font-size="11" fill="#505050" stroke="#505050" stroke-width="0.25">0.9200</text>
<line x1="1137.0" x2="1142" y1="268.6" y2="268.6" stroke="#707070" stroke-width="1"/>
<text x="1144.2" y="272.9" font-family="Liberation Sans, Arial, sans-serif" font-size="11" fill="#505050" stroke="#505050" stroke-width="0.25">0.9150</text>
<line x1="1137.0" x2="1142" y1="293.72" y2="293.72" stroke="#707070" stroke-width="1"/>
<text x="1144.2" y="298.02" font-family="Liberation Sans, Arial, sans-serif" font-size="11" fill="#505050" stroke="#505050" stroke-width="0.25">0.9125</text>
<line x1="1137.0" x2="1142" y1="318.84" y2="318.84" stroke="#707070" stroke-width="1"/>
<text x="1144.2" y="323.14" font-family="Liberation Sans, Arial, sans-serif" font-size="11" fill="#505050" stroke="#505050" stroke-width="0.25">0.9100</text>
<line x1="1137.0" x2="1142" y1="343.96" y2="343.96" stroke="#707070" stroke-width="1"/>
<text x="1144.2" y="348.26" font-family="Liberation Sans, Arial, sans-serif" font-size="11" fill="#505050" stroke="#505050" stroke-width="0.25">0.9075</text>
<path d="M1136.6,240.4 L1139.8,237 L1139.8,234.4 Q1139.8,232.9 1141.3,232.9 L1186.6,232.9 Q1188.1,232.9 1188.1,234.4 L1188.1,246.5 Q1188.1,248 1186.6,248 L1141.3,248 Q1139.8,248 1139.8,246.5 L1139.8,243.8 Z" fill="#2f4a73"/>
<text x="1144" y="244.5" font-family="Liberation Sans, Arial, sans-serif" font-size="11" font-weight="bold" fill="#fff">0.91786</text>
<line x1="1137.0" x2="1142" y1="398.4" y2="398.4" stroke="#999" stroke-width="1.5"/>
<text x="1144.2" y="402.4" font-family="Liberation Sans, Arial, sans-serif" font-size="11" fill="#505050" stroke="#505050" stroke-width="0.25">-0.0000</text>
<line x1="1137.0" x2="1142" y1="466.2" y2="466.2" stroke="#aaa" stroke-width="1.8"/>
<text x="1144.2" y="470.4" font-family="Liberation Sans, Arial, sans-serif" font-size="11" fill="#505050" stroke="#505050" stroke-width="0.25">50.0000</text>
<line x1="1137.0" x2="1142" y1="498.9" y2="498.9" stroke="#aaa" stroke-width="1.8"/>
<text x="1144.2" y="503.1" font-family="Liberation Sans, Arial, sans-serif" font-size="11" fill="#505050" stroke="#505050" stroke-width="0.25">0.0000</text>
<polyline points="0.5,400.1 5.5,397.6 11.5,394.9 17.5,392.2 23.5,390.6 29.5,390.3 34.5,390.2 40.5,390.2 46.5,390.4 52.5,390.6 58.5,390.8 64.5,391 69.5,390.48 75.5,389.81 81.5,388.94 87.5,388.02 93.5,386.93 99.5,385.65 104.5,385.22 110.5,385.74 116.5,386.86 122.5,388.43 128.5,390.26 134.5,392.31 139.5,394.5 145.5,397.24 151.5,400.04 157.5,402.59 163.5,404.77 169.5,406.65 174.5,408.14 180.5,409.19 186.5,409.89 192.5,410.35 198.5,410.57 204.5,410.71 209.5,410.38 215.5,409.19 221.5,407.48 227.5,405.52 233.5,403.46 239.5,401.37 244.5,399.33 250.5,397.77 256.5,396.62 262.5,395.92 268.5,395.38 274.5,395.13 279.5,394.81 285.5,394.88 291.5,395.11 297.5,395.54 303.5,395.99 309.5,396.79 314.5,397.55 320.5,398.14 326.5,398.63 332.5,398.99 338.5,399.34 344.5,399.64 349.5,400.11 355.5,400.92 361.5,401.96 367.5,402.94 373.5,403.82 379.5,404.41 384.5,405.27 390.5,406.78 396.5,408.63 402.5,410.29 408.5,411.71 414.5,412.91 419.5,413.84 425.5,414.46 431.5,414.78 437.5,415 443.5,415.08 448.5,414.96 454.5,414.71 460.5,413.92 466.5,412.76 472.5,411.42 478.5,410.03 483.5,408.68 489.5,407.65 495.5,406.84 501.5,405.83 507.5,404.59 513.5,403.26 518.5,402.02 524.5,400.91 530.5,400.11 536.5,399.25 542.5,398.35 548.5,397.47 553.5,396.74 559.5,396.12 565.5,395.43 571.5,394.96 577.5,394.84 583.5,395.22 588.5,395.95 594.5,396.81 600.5,397.77 606.5,398.71 612.5,399.13 618.5,399.42 623.5,399.56 629.5,399.45 635.5,399.1 641.5,398.66 647.5,398.08 653.5,397.65 658.5,397.34 664.5,397.17 670.5,397.03 676.5,396.79 682.5,396.7 688.5,396.49 693.5,395.96 699.5,395.26 705.5,394.55 711.5,393.83 717.5,393.02 723.5,393.05 728.5,393.9 734.5,395.15 740.5,396.62 746.5,398.23 752.5,399.81 758.5,401.46 763.5,403.54 769.5,405.99 775.5,408.51 781.5,410.86 787.5,412.82 793.5,414.35 798.5,415.09 804.5,415.29 810.5,415.02 816.5,414.4 822.5,413.67 828.5,411.92 833.5,409.29 839.5,406.15 845.5,402.82 851.5,399.57 857.5,396.53 862.5,393.76 868.5,391.13 874.5,388.74 880.5,386.67 886.5,385.06 892.5,383.88 897.5,382.99 903.5,382.76 909.5,383.07 915.5,383.83 921.5,384.86 927.5,386.32 932.5,387.94 938.5,389.49 944.5,390.98 950.5,392.28 956.5,393.5 962.5,394.7 967.5,395.82 973.5,396.87 979.5,397.5 985.5,397.84 991.5,397.85 997.5,397.85 1002.5,397.73 1008.5,397.4 1014.5,396.93 1020.5,396.45 1026.5,395.99 1032.5,395.39 1037.5,395.08 1043.5,394.93 1049.5,395.08 1055.5,395.51 1061.5,396.23 1067.5,397.16 1072.5,398.2" fill="none" stroke="#ff7f0e" stroke-width="1.1" stroke-linejoin="round"/>
<polyline points="0.5,388.9 5.5,386.6 11.5,383.9 17.5,383.2 23.5,386.2 29.5,388 34.5,389.3 40.5,390.4 46.5,391 52.5,391.6 58.5,392.5 64.5,393.6 69.5,389.35 75.5,387.14 81.5,385.47 87.5,384.34 93.5,382.57 99.5,380.5 104.5,383.49 110.5,387.86 116.5,391.32 122.5,394.73 128.5,397.57 134.5,400.5 139.5,403.25 145.5,408.19 151.5,411.24 157.5,412.81 163.5,413.48 169.5,414.16 174.5,414.11 180.5,413.38 186.5,412.71 192.5,412.2 198.5,411.42 204.5,411.29 209.5,409.08 215.5,404.41 221.5,400.62 227.5,397.67 233.5,395.24 239.5,393.02 244.5,391.15 250.5,391.54 256.5,392.01 262.5,393.13 268.5,393.24 274.5,394.11 279.5,393.55 285.5,395.13 291.5,396.06 297.5,397.26 303.5,397.77 309.5,400 314.5,400.58 320.5,400.53 326.5,400.57 332.5,400.44 338.5,400.75 344.5,400.83 349.5,401.97 355.5,404.18 361.5,406.12 367.5,406.84 373.5,407.34 379.5,406.81 384.5,408.71 390.5,412.79 396.5,416.05 402.5,416.92 408.5,417.41 414.5,417.69 419.5,417.55 425.5,416.96 431.5,416.03 437.5,415.89 443.5,415.38 448.5,414.5 454.5,413.73 460.5,410.74 466.5,408.12 472.5,406.08 478.5,404.45 483.5,403.28 489.5,403.52 495.5,403.62 501.5,401.79 507.5,399.61 513.5,397.94 518.5,397.06 524.5,396.47 530.5,396.94 536.5,395.8 542.5,394.73 548.5,393.98 553.5,393.83 559.5,393.62 565.5,392.7 571.5,393.06 577.5,394.38 583.5,396.71 588.5,398.88 594.5,400.26 600.5,401.62 606.5,402.46 612.5,400.82 618.5,400.56 623.5,400.15 629.5,398.99 635.5,397.72 641.5,396.88 647.5,395.77 653.5,395.9 658.5,396.11 664.5,396.48 670.5,396.5 676.5,395.8 682.5,396.34 688.5,395.66 693.5,393.82 699.5,392.5 705.5,391.71 711.5,390.95 717.5,389.78 723.5,393.17 728.5,397.3 734.5,400.16 740.5,402.46 746.5,404.69 752.5,406.14 758.5,408.03 763.5,411.86 769.5,415.78 775.5,418.59 781.5,420.29 787.5,420.65 793.5,420.47 798.5,418.05 804.5,416.1 810.5,413.92 816.5,411.93 822.5,410.76 828.5,404.9 833.5,398.78 839.5,393.61 845.5,389.48 851.5,386.58 857.5,384.36 862.5,382.67 868.5,380.6 874.5,379.22 880.5,378.39 886.5,378.59 892.5,379.17 897.5,379.43 903.5,381.85 909.5,384.31 915.5,386.87 921.5,388.96 927.5,392.15 932.5,394.46 938.5,395.68 944.5,396.92 950.5,397.52 956.5,398.36 962.5,399.5 967.5,400.3 973.5,401.09 979.5,400 985.5,399.22 991.5,397.88 997.5,397.87 1002.5,397.21 1008.5,396.08 1014.5,395.05 1020.5,394.54 1026.5,394.14 1032.5,393 1037.5,393.83 1043.5,394.36 1049.5,395.65 1055.5,397.22 1061.5,399.12 1067.5,400.86 1072.5,402.38" fill="none" stroke="#2040ff" stroke-width="1.1" stroke-linejoin="round"/>
<g id="macdhist">
<rect x="-2" y="387" width="5" height="11.2" fill="#00ff00"/>
<rect x="3" y="387.2" width="5" height="11" fill="#00ff00"/>
<rect x="9" y="387.2" width="5" height="11" fill="#00ff00"/>
<rect x="15" y="389.2" width="5" height="9" fill="#00ff00"/>
<rect x="21" y="393.8" width="5" height="4.4" fill="#00ff00"/>
<rect x="27" y="395.9" width="5" height="2.3" fill="#00ff00"/>
<rect x="32" y="397.3" width="5" height="0.9" fill="#00ff00"/>
<rect x="38" y="398.2" width="5" height="0.6" fill="#ff0000"/>
<rect x="44" y="398.2" width="5" height="0.6" fill="#ff0000"/>
<rect x="50" y="398.2" width="5" height="1" fill="#ff0000"/>
<rect x="56" y="398.2" width="5" height="1.7" fill="#ff0000"/>
<rect x="62" y="398.2" width="5" height="2.6" fill="#ff0000"/>
<rect x="67" y="397.08" width="5" height="1.12" fill="#00ff00"/>
<rect x="73" y="395.53" width="5" height="2.67" fill="#00ff00"/>
<rect x="79" y="394.73" width="5" height="3.47" fill="#00ff00"/>
<rect x="85" y="394.52" width="5" height="3.68" fill="#00ff00"/>
<rect x="91" y="393.84" width="5" height="4.36" fill="#00ff00"/>
<rect x="97" y="393.05" width="5" height="5.15" fill="#00ff00"/>
<rect x="102" y="396.48" width="5" height="1.72" fill="#00ff00"/>
<rect x="108" y="398.2" width="5" height="2.12" fill="#ff0000"/>
<rect x="114" y="398.2" width="5" height="4.46" fill="#ff0000"/>
<rect x="120" y="398.2" width="5" height="6.3" fill="#ff0000"/>
<rect x="126" y="398.2" width="5" height="7.31" fill="#ff0000"/>
<rect x="132" y="398.2" width="5" height="8.19" fill="#ff0000"/>
<rect x="137" y="398.2" width="5" height="8.75" fill="#ff0000"/>
<rect x="143" y="398.2" width="5" height="10.96" fill="#ff0000"/>
<rect x="149" y="398.2" width="5" height="11.2" fill="#ff0000"/>
<rect x="155" y="398.2" width="5" height="10.22" fill="#ff0000"/>
<rect x="161" y="398.2" width="5" height="8.71" fill="#ff0000"/>
<rect x="167" y="398.2" width="5" height="7.51" fill="#ff0000"/>
<rect x="172" y="398.2" width="5" height="5.97" fill="#ff0000"/>
<rect x="178" y="398.2" width="5" height="4.2" fill="#ff0000"/>
<rect x="184" y="398.2" width="5" height="2.82" fill="#ff0000"/>
<rect x="190" y="398.2" width="5" height="1.85" fill="#ff0000"/>
<rect x="196" y="398.2" width="5" height="0.85" fill="#ff0000"/>
<rect x="202" y="398.2" width="5" height="0.6" fill="#ff0000"/>
<rect x="207" y="396.89" width="5" height="1.31" fill="#00ff00"/>
<rect x="213" y="393.42" width="5" height="4.78" fill="#00ff00"/>
<rect x="219" y="391.34" width="5" height="6.86" fill="#00ff00"/>
<rect x="225" y="390.36" width="5" height="7.84" fill="#00ff00"/>
<rect x="231" y="389.98" width="5" height="8.22" fill="#00ff00"/>
<rect x="237" y="389.85" width="5" height="8.35" fill="#00ff00"/>
<rect x="242" y="390.03" width="5" height="8.17" fill="#00ff00"/>
<rect x="248" y="391.97" width="5" height="6.23" fill="#00ff00"/>
<rect x="254" y="393.59" width="5" height="4.61" fill="#00ff00"/>
<rect x="260" y="395.41" width="5" height="2.79" fill="#00ff00"/>
<rect x="266" y="396.06" width="5" height="2.14" fill="#00ff00"/>
<rect x="272" y="397.18" width="5" height="1.02" fill="#00ff00"/>
<rect x="277" y="396.94" width="5" height="1.26" fill="#00ff00"/>
<rect x="283" y="398.2" width="5" height="0.6" fill="#ff0000"/>
<rect x="289" y="398.2" width="5" height="0.95" fill="#ff0000"/>
<rect x="295" y="398.2" width="5" height="1.71" fill="#ff0000"/>
<rect x="301" y="398.2" width="5" height="1.78" fill="#ff0000"/>
<rect x="307" y="398.2" width="5" height="3.21" fill="#ff0000"/>
<rect x="312" y="398.2" width="5" height="3.03" fill="#ff0000"/>
<rect x="318" y="398.2" width="5" height="2.39" fill="#ff0000"/>
<rect x="324" y="398.2" width="5" height="1.94" fill="#ff0000"/>
<rect x="330" y="398.2" width="5" height="1.45" fill="#ff0000"/>
<rect x="336" y="398.2" width="5" height="1.4" fill="#ff0000"/>
<rect x="342" y="398.2" width="5" height="1.19" fill="#ff0000"/>
<rect x="347" y="398.2" width="5" height="1.86" fill="#ff0000"/>
<rect x="353" y="398.2" width="5" height="3.26" fill="#ff0000"/>
<rect x="359" y="398.2" width="5" height="4.16" fill="#ff0000"/>
<rect x="365" y="398.2" width="5" height="3.9" fill="#ff0000"/>
<rect x="371" y="398.2" width="5" height="3.52" fill="#ff0000"/>
<rect x="377" y="398.2" width="5" height="2.39" fill="#ff0000"/>
<rect x="382" y="398.2" width="5" height="3.43" fill="#ff0000"/>
<rect x="388" y="398.2" width="5" height="6.01" fill="#ff0000"/>
<rect x="394" y="398.2" width="5" height="7.42" fill="#ff0000"/>
<rect x="400" y="398.2" width="5" height="6.63" fill="#ff0000"/>
<rect x="406" y="398.2" width="5" height="5.69" fill="#ff0000"/>
<rect x="412" y="398.2" width="5" height="4.79" fill="#ff0000"/>
<rect x="417" y="398.2" width="5" height="3.71" fill="#ff0000"/>
<rect x="423" y="398.2" width="5" height="2.49" fill="#ff0000"/>
<rect x="429" y="398.2" width="5" height="1.26" fill="#ff0000"/>
<rect x="435" y="398.2" width="5" height="0.9" fill="#ff0000"/>
<rect x="441" y="398.2" width="5" height="0.6" fill="#ff0000"/>
<rect x="446" y="397.6" width="5" height="0.6" fill="#00ff00"/>
<rect x="452" y="397.21" width="5" height="0.99" fill="#00ff00"/>
<rect x="458" y="395.02" width="5" height="3.18" fill="#00ff00"/>
<rect x="464" y="393.56" width="5" height="4.64" fill="#00ff00"/>
<rect x="470" y="392.85" width="5" height="5.35" fill="#00ff00"/>
<rect x="476" y="392.62" width="5" height="5.58" fill="#00ff00"/>
<rect x="481" y="392.8" width="5" height="5.4" fill="#00ff00"/>
<rect x="487" y="394.07" width="5" height="4.13" fill="#00ff00"/>
<rect x="493" y="394.98" width="5" height="3.22" fill="#00ff00"/>
<rect x="499" y="394.16" width="5" height="4.04" fill="#00ff00"/>
<rect x="505" y="393.23" width="5" height="4.97" fill="#00ff00"/>
<rect x="511" y="392.88" width="5" height="5.32" fill="#00ff00"/>
<rect x="516" y="393.24" width="5" height="4.96" fill="#00ff00"/>
<rect x="522" y="393.76" width="5" height="4.44" fill="#00ff00"/>
<rect x="528" y="395.02" width="5" height="3.18" fill="#00ff00"/>
<rect x="534" y="394.75" width="5" height="3.45" fill="#00ff00"/>
<rect x="540" y="394.58" width="5" height="3.62" fill="#00ff00"/>
<rect x="546" y="394.71" width="5" height="3.49" fill="#00ff00"/>
<rect x="551" y="395.28" width="5" height="2.92" fill="#00ff00"/>
<rect x="557" y="395.7" width="5" height="2.5" fill="#00ff00"/>
<rect x="563" y="395.46" width="5" height="2.74" fill="#00ff00"/>
<rect x="569" y="396.3" width="5" height="1.9" fill="#00ff00"/>
<rect x="575" y="397.6" width="5" height="0.6" fill="#00ff00"/>
<rect x="581" y="398.2" width="5" height="1.5" fill="#ff0000"/>
<rect x="586" y="398.2" width="5" height="2.93" fill="#ff0000"/>
<rect x="592" y="398.2" width="5" height="3.45" fill="#ff0000"/>
<rect x="598" y="398.2" width="5" height="3.85" fill="#ff0000"/>
<rect x="604" y="398.2" width="5" height="3.75" fill="#ff0000"/>
<rect x="610" y="398.2" width="5" height="1.69" fill="#ff0000"/>
<rect x="616" y="398.2" width="5" height="1.14" fill="#ff0000"/>
<rect x="621" y="398.2" width="5" height="0.6" fill="#ff0000"/>
<rect x="627" y="397.6" width="5" height="0.6" fill="#00ff00"/>
<rect x="633" y="396.82" width="5" height="1.38" fill="#00ff00"/>
<rect x="639" y="396.42" width="5" height="1.78" fill="#00ff00"/>
<rect x="645" y="395.89" width="5" height="2.31" fill="#00ff00"/>
<rect x="651" y="396.46" width="5" height="1.74" fill="#00ff00"/>
<rect x="656" y="396.97" width="5" height="1.23" fill="#00ff00"/>
<rect x="662" y="397.51" width="5" height="0.69" fill="#00ff00"/>
<rect x="668" y="397.6" width="5" height="0.6" fill="#00ff00"/>
<rect x="674" y="397.21" width="5" height="0.99" fill="#00ff00"/>
<rect x="680" y="397.6" width="5" height="0.6" fill="#00ff00"/>
<rect x="686" y="397.37" width="5" height="0.83" fill="#00ff00"/>
<rect x="691" y="396.07" width="5" height="2.13" fill="#00ff00"/>
<rect x="697" y="395.43" width="5" height="2.77" fill="#00ff00"/>
<rect x="703" y="395.36" width="5" height="2.84" fill="#00ff00"/>
<rect x="709" y="395.32" width="5" height="2.88" fill="#00ff00"/>
<rect x="715" y="394.96" width="5" height="3.24" fill="#00ff00"/>
<rect x="721" y="398.2" width="5" height="0.6" fill="#ff0000"/>
<rect x="726" y="398.2" width="5" height="3.4" fill="#ff0000"/>
<rect x="732" y="398.2" width="5" height="5.01" fill="#ff0000"/>
<rect x="738" y="398.2" width="5" height="5.85" fill="#ff0000"/>
<rect x="744" y="398.2" width="5" height="6.46" fill="#ff0000"/>
<rect x="750" y="398.2" width="5" height="6.33" fill="#ff0000"/>
<rect x="756" y="398.2" width="5" height="6.58" fill="#ff0000"/>
<rect x="761" y="398.2" width="5" height="8.33" fill="#ff0000"/>
<rect x="767" y="398.2" width="5" height="9.79" fill="#ff0000"/>
<rect x="773" y="398.2" width="5" height="10.08" fill="#ff0000"/>
<rect x="779" y="398.2" width="5" height="9.43" fill="#ff0000"/>
<rect x="785" y="398.2" width="5" height="7.83" fill="#ff0000"/>
<rect x="791" y="398.2" width="5" height="6.12" fill="#ff0000"/>
<rect x="796" y="398.2" width="5" height="2.96" fill="#ff0000"/>
<rect x="802" y="398.2" width="5" height="0.81" fill="#ff0000"/>
<rect x="808" y="397.1" width="5" height="1.1" fill="#00ff00"/>
<rect x="814" y="395.73" width="5" height="2.47" fill="#00ff00"/>
<rect x="820" y="395.29" width="5" height="2.91" fill="#00ff00"/>
<rect x="826" y="391.18" width="5" height="7.02" fill="#00ff00"/>
<rect x="831" y="387.69" width="5" height="10.51" fill="#00ff00"/>
<rect x="837" y="385.66" width="5" height="12.54" fill="#00ff00"/>
<rect x="843" y="384.86" width="5" height="13.34" fill="#00ff00"/>
<rect x="849" y="385.2" width="5" height="13" fill="#00ff00"/>
<rect x="855" y="386.03" width="5" height="12.17" fill="#00ff00"/>
<rect x="860" y="387.12" width="5" height="11.08" fill="#00ff00"/>
<rect x="866" y="387.67" width="5" height="10.53" fill="#00ff00"/>
<rect x="872" y="388.68" width="5" height="9.52" fill="#00ff00"/>
<rect x="878" y="389.92" width="5" height="8.28" fill="#00ff00"/>
<rect x="884" y="391.73" width="5" height="6.47" fill="#00ff00"/>
<rect x="890" y="393.49" width="5" height="4.71" fill="#00ff00"/>
<rect x="895" y="394.64" width="5" height="3.56" fill="#00ff00"/>
<rect x="901" y="397.29" width="5" height="0.91" fill="#00ff00"/>
<rect x="907" y="398.2" width="5" height="1.24" fill="#ff0000"/>
<rect x="913" y="398.2" width="5" height="3.04" fill="#ff0000"/>
<rect x="919" y="398.2" width="5" height="4.11" fill="#ff0000"/>
<rect x="925" y="398.2" width="5" height="5.84" fill="#ff0000"/>
<rect x="930" y="398.2" width="5" height="6.51" fill="#ff0000"/>
<rect x="936" y="398.2" width="5" height="6.19" fill="#ff0000"/>
<rect x="942" y="398.2" width="5" height="5.94" fill="#ff0000"/>
<rect x="948" y="398.2" width="5" height="5.24" fill="#ff0000"/>
<rect x="954" y="398.2" width="5" height="4.86" fill="#ff0000"/>
<rect x="960" y="398.2" width="5" height="4.8" fill="#ff0000"/>
<rect x="965" y="398.2" width="5" height="4.48" fill="#ff0000"/>
<rect x="971" y="398.2" width="5" height="4.22" fill="#ff0000"/>
<rect x="977" y="398.2" width="5" height="2.5" fill="#ff0000"/>
<rect x="983" y="398.2" width="5" height="1.38" fill="#ff0000"/>
<rect x="989" y="398.2" width="5" height="0.6" fill="#ff0000"/>
<rect x="995" y="398.2" width="5" height="0.6" fill="#ff0000"/>
<rect x="1000" y="397.6" width="5" height="0.6" fill="#00ff00"/>
<rect x="1006" y="396.88" width="5" height="1.32" fill="#00ff00"/>
<rect x="1012" y="396.33" width="5" height="1.87" fill="#00ff00"/>
<rect x="1018" y="396.29" width="5" height="1.91" fill="#00ff00"/>
<rect x="1024" y="396.35" width="5" height="1.85" fill="#00ff00"/>
<rect x="1030" y="395.81" width="5" height="2.39" fill="#00ff00"/>
<rect x="1035" y="396.95" width="5" height="1.25" fill="#00ff00"/>
<rect x="1041" y="397.6" width="5" height="0.6" fill="#00ff00"/>
<rect x="1047" y="398.2" width="5" height="0.6" fill="#ff0000"/>
<rect x="1053" y="398.2" width="5" height="1.72" fill="#ff0000"/>
<rect x="1059" y="398.2" width="5" height="2.89" fill="#ff0000"/>
<rect x="1065" y="398.2" width="5" height="3.71" fill="#ff0000"/>
<rect x="1070" y="398.2" width="5" height="4.18" fill="#ff0000"/>
</g>
<rect x="1" y="433.4" width="1071.6" height="19.6" fill="#7ff87f"/>
<rect x="1" y="479" width="1071.6" height="20.5" fill="#fa7c7c"/>
<line x1="1" x2="1072.6" y1="452.5" y2="452.5" stroke="#0a200a" stroke-opacity="0.6" stroke-width="1"/>
<line x1="1" x2="1072.6" y1="452.5" y2="452.5" stroke="#111" stroke-width="1" stroke-dasharray="5.3 0.6"/>
<line x1="1" x2="1072.6" y1="479.5" y2="479.5" stroke="#200a0a" stroke-opacity="0.6" stroke-width="1"/>
<line x1="1" x2="1072.6" y1="479.5" y2="479.5" stroke="#111" stroke-width="1" stroke-dasharray="5.3 0.6"/>
<line x1="0.6" x2="0.6" y1="433.4" y2="452.9" stroke="#111" stroke-width="1.3"/>
<line x1="0.6" x2="0.6" y1="478.9" y2="499.5" stroke="#111" stroke-width="1.3"/>
<line x1="1072.6" x2="1072.6" y1="433.4" y2="452.9" stroke="#111" stroke-width="1.3"/>
<line x1="1072.6" x2="1072.6" y1="478.9" y2="499.5" stroke="#111" stroke-width="1.3"/>
<line x1="740.5" x2="740.5" y1="433.4" y2="499.5" stroke="#000" stroke-opacity="0.09" stroke-width="1"/>
<polyline points="0.5,452.46 5.5,457.49 11.5,456.45 17.5,460.37 23.5,465.24 29.5,467.05 34.5,465.41 40.5,465.22 46.5,464.84 52.5,464.9 58.5,466.24 64.5,468.62 69.5,457.45 75.5,459.08 81.5,458.98 87.5,459.07 93.5,457.15 99.5,455.67 104.5,466.59 110.5,469.89 116.5,469.71 122.5,470.82 128.5,471.06 134.5,472.35 139.5,473.23 145.5,477.73 151.5,475.68 157.5,473.83 163.5,472.7 169.5,473.33 174.5,472.11 180.5,470.57 186.5,470.73 192.5,471.19 198.5,470.38 204.5,472.07 209.5,465.62 215.5,458.99 221.5,458.86 227.5,459.03 233.5,458.72 239.5,457.91 244.5,457.46 250.5,463.91 256.5,464.23 262.5,466.46 268.5,463.88 274.5,466.26 279.5,462.4 285.5,468.22 291.5,467.22 297.5,468.42 303.5,467.02 309.5,471.85 314.5,468.22 320.5,466.82 326.5,467.13 332.5,466.68 338.5,468.04 344.5,467.56 349.5,471.01 355.5,474.52 361.5,475.19 367.5,472.22 373.5,472.34 379.5,468.98 384.5,475.27 390.5,480.04 396.5,480.38 402.5,475.03 408.5,475.08 414.5,475.33 419.5,474.76 425.5,473.71 431.5,472.7 437.5,474.76 443.5,473.86 448.5,472.57 454.5,472.9 460.5,464.2 466.5,463.78 472.5,464.24 478.5,464.51 483.5,465.25 489.5,469.98 495.5,469.84 501.5,462.55 507.5,460.37 513.5,460.55 518.5,462.48 524.5,462.85 530.5,466.76 536.5,461.26 542.5,460.61 548.5,460.85 553.5,462.65 559.5,462.11 565.5,459.13 571.5,463.97 577.5,467.86 583.5,472 588.5,472.93 594.5,471.53 600.5,472.52 606.5,471.59 612.5,462.61 618.5,466.4 623.5,465.78 629.5,463.01 635.5,461.88 641.5,462.5 647.5,460.92 653.5,465 658.5,465.3 664.5,466.09 670.5,464.85 676.5,461.91 682.5,466.54 688.5,462.35 693.5,458.31 699.5,458.58 705.5,459.46 711.5,458.76 717.5,456.73 723.5,471.61 728.5,474.67 734.5,473.34 740.5,473.53 746.5,474.61 752.5,473.75 758.5,475.77 763.5,480.4 769.5,481.97 775.5,481.74 781.5,480.54 787.5,477.41 793.5,476.53 798.5,468.94 804.5,469.42 810.5,467.89 816.5,467.52 822.5,469.28 828.5,456.84 833.5,454.45 839.5,453.89 845.5,453.68 851.5,454.52 857.5,454.39 862.5,454.18 868.5,452.38 874.5,452.61 880.5,452.76 886.5,455.8 892.5,456.77 897.5,455.67 903.5,464.17 909.5,465.52 915.5,467.16 921.5,467.01 927.5,471.72 932.5,470.6 938.5,468.08 944.5,468.94 950.5,467.37 956.5,468.69 962.5,470.49 967.5,470.07 973.5,470.8 979.5,463.39 985.5,463.84 991.5,461.11 997.5,465.65 1002.5,463.19 1008.5,461.02 1014.5,460.47 1020.5,461.68 1026.5,461.56 1032.5,458.34 1037.5,465.92 1043.5,465.28 1049.5,468.47 1055.5,470.38 1061.5,472.53 1067.5,473.37 1072.5,473.98" fill="none" stroke="#2040ff" stroke-width="1.1" stroke-linejoin="round"/>
<line x1="558" x2="578" y1="370.5" y2="370.5" stroke="#555" stroke-width="1"/>
<line x1="558" x2="578" y1="372.5" y2="372.5" stroke="#555" stroke-width="1"/>
<line x1="558" x2="578" y1="374.5" y2="374.5" stroke="#555" stroke-width="1"/>
<line x1="558" x2="578" y1="425.5" y2="425.5" stroke="#555" stroke-width="1"/>
<line x1="558" x2="578" y1="427.5" y2="427.5" stroke="#555" stroke-width="1"/>
<line x1="558" x2="578" y1="429.5" y2="429.5" stroke="#555" stroke-width="1"/>
<rect x="5.1" y="5.1" width="77.7" height="20.6" fill="#000" fill-opacity="0.6"/>
<rect x="5.1" y="5.1" width="2" height="20.6" fill="#2f8b74"/>
<text x="16" y="20" font-family="Liberation Sans, Arial, sans-serif" font-size="11" font-weight="bold" fill="#fff">USD/CHF</text>
<rect x="5.1" y="32.2" width="89.5" height="20.6" fill="#000" fill-opacity="0.6"/>
<rect x="5.1" y="32.2" width="2" height="20.6" fill="#0000ff"/>
<text x="16" y="46.4" font-family="Liberation Sans, Arial, sans-serif" font-size="11" font-weight="bold" fill="#fff">SMA (100,0)</text>
<rect x="5.1" y="381.1" width="108.7" height="20.4" fill="#000" fill-opacity="0.6"/>
<rect x="5.1" y="381.1" width="2" height="20.4" fill="#0000ff"/>
<text x="16" y="395.3" font-family="Liberation Sans, Arial, sans-serif" font-size="11" font-weight="bold" fill="#fff">MACD (12,26,9)</text>
<rect x="5.1" y="436.1" width="109.7" height="20.8" fill="#000" fill-opacity="0.6"/>
<rect x="5.1" y="436.1" width="2" height="20.8" fill="#00ff00"/>
<text x="16" y="450.4" font-family="Liberation Sans, Arial, sans-serif" font-size="11" font-weight="bold" fill="#fff">RSI (14,70,30,1)</text>
<line x1="0.5" x2="0.5" y1="500.5" y2="502.9" stroke="#555" stroke-width="1.1"/>
<text x="-0.5" y="517" font-family="Liberation Sans, Arial, sans-serif" font-size="11" fill="#555">Jan</text>
<line x1="52.4" x2="52.4" y1="500.5" y2="502.9" stroke="#555" stroke-width="1.1"/>
<text x="52.4" y="517" font-family="Liberation Sans, Arial, sans-serif" font-size="11" fill="#555" text-anchor="middle">5</text>
<line x1="87.2" x2="87.2" y1="500.5" y2="502.9" stroke="#555" stroke-width="1.1"/>
<text x="87.2" y="517" font-family="Liberation Sans, Arial, sans-serif" font-size="11" fill="#555" text-anchor="middle">6</text>
<line x1="122.3" x2="122.3" y1="500.5" y2="502.9" stroke="#555" stroke-width="1.1"/>
<text x="122.3" y="517" font-family="Liberation Sans, Arial, sans-serif" font-size="11" fill="#555" text-anchor="middle">8</text>
<line x1="163" x2="163" y1="500.5" y2="502.9" stroke="#555" stroke-width="1.1"/>
<text x="163" y="517" font-family="Liberation Sans, Arial, sans-serif" font-size="11" fill="#555" text-anchor="middle">10</text>
<line x1="198.2" x2="198.2" y1="500.5" y2="502.9" stroke="#555" stroke-width="1.1"/>
<text x="198.2" y="517" font-family="Liberation Sans, Arial, sans-serif" font-size="11" fill="#555" text-anchor="middle">11</text>
<line x1="233" x2="233" y1="500.5" y2="502.9" stroke="#555" stroke-width="1.1"/>
<text x="233" y="517" font-family="Liberation Sans, Arial, sans-serif" font-size="11" fill="#555" text-anchor="middle">12</text>
<line x1="268.1" x2="268.1" y1="500.5" y2="502.9" stroke="#555" stroke-width="1.1"/>
<text x="268.1" y="517" font-family="Liberation Sans, Arial, sans-serif" font-size="11" fill="#555" text-anchor="middle">13</text>
<line x1="303.2" x2="303.2" y1="500.5" y2="502.9" stroke="#555" stroke-width="1.1"/>
<text x="303.2" y="517" font-family="Liberation Sans, Arial, sans-serif" font-size="11" fill="#555" text-anchor="middle">15</text>
<line x1="344" x2="344" y1="500.5" y2="502.9" stroke="#555" stroke-width="1.1"/>
<text x="344" y="517" font-family="Liberation Sans, Arial, sans-serif" font-size="11" fill="#555" text-anchor="middle">17</text>
<line x1="378.8" x2="378.8" y1="500.5" y2="502.9" stroke="#555" stroke-width="1.1"/>
<text x="378.8" y="517" font-family="Liberation Sans, Arial, sans-serif" font-size="11" fill="#555" text-anchor="middle">18</text>
<line x1="413.8" x2="413.8" y1="500.5" y2="502.9" stroke="#555" stroke-width="1.1"/>
<text x="413.8" y="517" font-family="Liberation Sans, Arial, sans-serif" font-size="11" fill="#555" text-anchor="middle">19</text>
<line x1="448.9" x2="448.9" y1="500.5" y2="502.9" stroke="#555" stroke-width="1.1"/>
<text x="448.9" y="517" font-family="Liberation Sans, Arial, sans-serif" font-size="11" fill="#555" text-anchor="middle">20</text>
<line x1="484" x2="484" y1="500.5" y2="502.9" stroke="#555" stroke-width="1.1"/>
<text x="484" y="517" font-family="Liberation Sans, Arial, sans-serif" font-size="11" fill="#555" text-anchor="middle">22</text>
<line x1="524.8" x2="524.8" y1="500.5" y2="502.9" stroke="#555" stroke-width="1.1"/>
<text x="524.8" y="517" font-family="Liberation Sans, Arial, sans-serif" font-size="11" fill="#555" text-anchor="middle">24</text>
<line x1="559.6" x2="559.6" y1="500.5" y2="502.9" stroke="#555" stroke-width="1.1"/>
<text x="559.6" y="517" font-family="Liberation Sans, Arial, sans-serif" font-size="11" fill="#555" text-anchor="middle">25</text>
<line x1="594.7" x2="594.7" y1="500.5" y2="502.9" stroke="#555" stroke-width="1.1"/>
<text x="594.7" y="517" font-family="Liberation Sans, Arial, sans-serif" font-size="11" fill="#555" text-anchor="middle">26</text>
<line x1="629.5" x2="629.5" y1="500.5" y2="502.9" stroke="#555" stroke-width="1.1"/>
<text x="629.5" y="517" font-family="Liberation Sans, Arial, sans-serif" font-size="11" fill="#555" text-anchor="middle">27</text>
<line x1="664.7" x2="664.7" y1="500.5" y2="502.9" stroke="#555" stroke-width="1.1"/>
<text x="664.7" y="517" font-family="Liberation Sans, Arial, sans-serif" font-size="11" fill="#555" text-anchor="middle">29</text>
<line x1="705.4" x2="705.4" y1="500.5" y2="502.9" stroke="#555" stroke-width="1.1"/>
<text x="705.4" y="517" font-family="Liberation Sans, Arial, sans-serif" font-size="11" fill="#555" text-anchor="middle">31</text>
<line x1="740.6" x2="740.6" y1="500.5" y2="502.9" stroke="#555" stroke-width="1.1"/>
<text x="740.6" y="517" font-family="Liberation Sans, Arial, sans-serif" font-size="11" fill="#555" text-anchor="middle">Feb</text>
<line x1="775.5" x2="775.5" y1="500.5" y2="502.9" stroke="#555" stroke-width="1.1"/>
<text x="775.5" y="517" font-family="Liberation Sans, Arial, sans-serif" font-size="11" fill="#555" text-anchor="middle">2</text>
<line x1="810.4" x2="810.4" y1="500.5" y2="502.9" stroke="#555" stroke-width="1.1"/>
<text x="810.4" y="517" font-family="Liberation Sans, Arial, sans-serif" font-size="11" fill="#555" text-anchor="middle">3</text>
<line x1="845.5" x2="845.5" y1="500.5" y2="502.9" stroke="#555" stroke-width="1.1"/>
<text x="845.5" y="517" font-family="Liberation Sans, Arial, sans-serif" font-size="11" fill="#555" text-anchor="middle">5</text>
<line x1="886.3" x2="886.3" y1="500.5" y2="502.9" stroke="#555" stroke-width="1.1"/>
<text x="886.3" y="517" font-family="Liberation Sans, Arial, sans-serif" font-size="11" fill="#555" text-anchor="middle">7</text>
<line x1="921" x2="921" y1="500.5" y2="502.9" stroke="#555" stroke-width="1.1"/>
<text x="921" y="517" font-family="Liberation Sans, Arial, sans-serif" font-size="11" fill="#555" text-anchor="middle">8</text>
<line x1="956.2" x2="956.2" y1="500.5" y2="502.9" stroke="#555" stroke-width="1.1"/>
<text x="956.2" y="517" font-family="Liberation Sans, Arial, sans-serif" font-size="11" fill="#555" text-anchor="middle">9</text>
<line x1="991.3" x2="991.3" y1="500.5" y2="502.9" stroke="#555" stroke-width="1.1"/>
<text x="991.3" y="517" font-family="Liberation Sans, Arial, sans-serif" font-size="11" fill="#555" text-anchor="middle">10</text>
<line x1="1026.1" x2="1026.1" y1="500.5" y2="502.9" stroke="#555" stroke-width="1.1"/>
<text x="1026.1" y="517" font-family="Liberation Sans, Arial, sans-serif" font-size="11" fill="#555" text-anchor="middle">12</text>
<line x1="1066.9" x2="1066.9" y1="500.5" y2="502.9" stroke="#555" stroke-width="1.1"/>
<text x="1066.9" y="517" font-family="Liberation Sans, Arial, sans-serif" font-size="11" fill="#555" text-anchor="middle">14</text>
<line x1="1102.3" x2="1102.3" y1="500.5" y2="502.9" stroke="#555" stroke-width="1.1"/>
<text x="1102.3" y="517" font-family="Liberation Sans, Arial, sans-serif" font-size="11" fill="#555" text-anchor="middle">15</text>
</svg>
</body></html>
